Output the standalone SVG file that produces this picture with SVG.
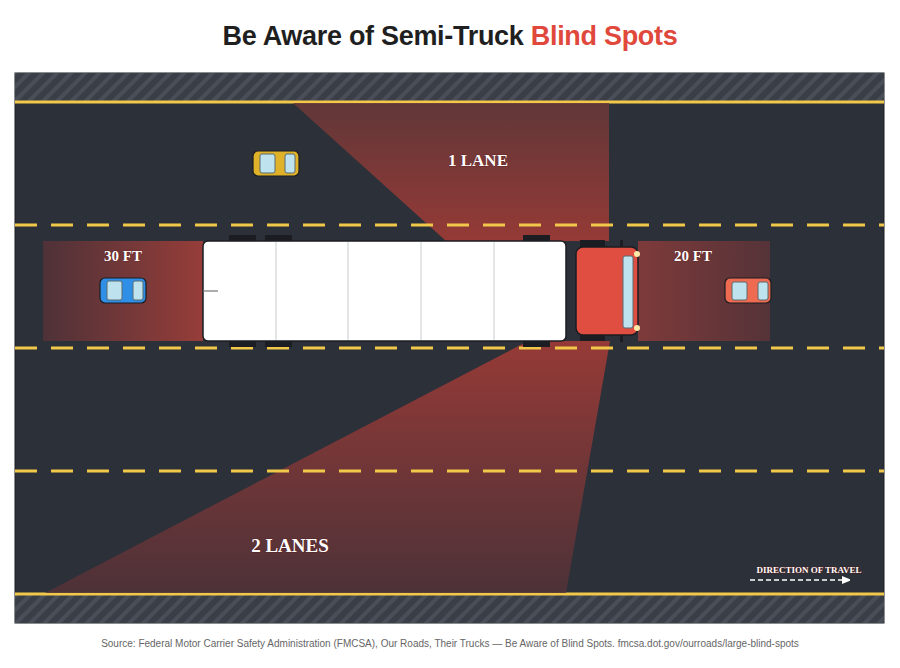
<svg xmlns="http://www.w3.org/2000/svg" width="900" height="668" viewBox="0 0 900 668">
<defs>
<pattern id="hatch" width="10" height="10" patternUnits="userSpaceOnUse" patternTransform="rotate(45)">
<rect width="10" height="10" fill="#3a3e47"/><rect width="4" height="10" fill="#4a4e58"/>
</pattern>
<linearGradient id="gTop" x1="0" y1="0" x2="0" y2="1"><stop offset="0" stop-color="#6a3838"/><stop offset="1" stop-color="#a83c36"/></linearGradient>
<linearGradient id="gRear" x1="0" y1="0" x2="1" y2="0"><stop offset="0" stop-color="#4e3238"/><stop offset="1" stop-color="#963d39"/></linearGradient>
<linearGradient id="gFront" x1="0" y1="0" x2="1" y2="0"><stop offset="0" stop-color="#7e3a3a"/><stop offset="1" stop-color="#553338"/></linearGradient>
<linearGradient id="gBot" x1="0" y1="0" x2="0" y2="1"><stop offset="0" stop-color="#a83c36"/><stop offset="1" stop-color="#523238"/></linearGradient>
<marker id="arr" markerWidth="8" markerHeight="8" refX="1" refY="4" orient="auto" markerUnits="userSpaceOnUse"><path d="M0,0 L10,4 L0,8Z" fill="#fff"/></marker>
</defs>
<style>
.lbl{font-family:"Liberation Serif",serif;font-weight:bold;fill:#fff;stroke:#5a1010;stroke-width:0.6;paint-order:stroke}
.dash{stroke:#f2c84b;stroke-width:3;stroke-dasharray:22 14}
.wheel{fill:#1b1d22}
.win{fill:#bfe3ee;stroke:#5a6a70;stroke-width:1}
.seg{stroke:#c9ccd0;stroke-width:1}
</style>
<rect width="900" height="668" fill="#fff"/>
<text x="450" y="45" text-anchor="middle" font-family="Liberation Sans, Arial, sans-serif" font-weight="bold" font-size="27" fill="#1f1f1f" letter-spacing="-0.3">Be Aware of Semi-Truck  <tspan fill="#e0483c">Blind Spots</tspan></text>
<g id="road">
<rect x="15" y="73" width="869" height="550" fill="#2c3038" stroke="#1a1c20"/>
<rect x="15" y="73" width="869" height="29" fill="url(#hatch)"/>
<rect x="15" y="594" width="869" height="29" fill="url(#hatch)"/>
<line x1="15" y1="102" x2="884" y2="102" stroke="#f2c84b" stroke-width="3"/>
<line x1="15" y1="594" x2="884" y2="594" stroke="#f2c84b" stroke-width="3"/>
</g>
<g id="blindspots">
<polygon points="293,103 609,103 609,241 446,241" fill="url(#gTop)" opacity="0.85"/>
<rect x="43" y="241" width="160" height="100" fill="url(#gRear)"/>
<rect x="638" y="241" width="132" height="100" fill="url(#gFront)"/>
<polygon points="528,341 610,341 566,593 45,593" fill="url(#gBot)" opacity="0.85"/>
</g>
<g id="lanes">
<line class="dash" x1="15" y1="225" x2="884" y2="225"/>
<line class="dash" x1="15" y1="348" x2="884" y2="348"/>
<line class="dash" x1="15" y1="471" x2="884" y2="471"/>
</g>
<g id="truck">
<rect x="229" y="235" width="27" height="8" class="wheel"/><rect x="265" y="235" width="27" height="8" class="wheel"/><rect x="523" y="235" width="27" height="8" class="wheel"/>
<rect x="229" y="339" width="27" height="8" class="wheel"/><rect x="265" y="339" width="27" height="8" class="wheel"/><rect x="523" y="339" width="27" height="8" class="wheel"/>
<rect x="203" y="241" width="363" height="100" rx="5" fill="#fff" stroke="#1b1d22" stroke-width="1.5"/>
<line class="seg" x1="276" y1="242" x2="276" y2="340"/><line class="seg" x1="348" y1="242" x2="348" y2="340"/><line class="seg" x1="421" y1="242" x2="421" y2="340"/><line class="seg" x1="494" y1="242" x2="494" y2="340"/>
<line x1="203" y1="291" x2="218" y2="291" stroke="#777" stroke-width="1.2"/>
<rect x="580" y="240" width="25" height="8" class="wheel"/><rect x="580" y="333" width="25" height="8" class="wheel"/>
<rect x="620" y="240" width="3" height="10" class="wheel"/><rect x="620" y="332" width="3" height="10" class="wheel"/>
<rect x="576" y="247" width="62" height="88" rx="7" fill="#e04e42" stroke="#1b1d22" stroke-width="1.5"/>
<rect x="623" y="256" width="10" height="72" rx="2" class="win"/>
<circle cx="637" cy="254" r="3" fill="#fde9a8"/><circle cx="637" cy="328" r="3" fill="#fde9a8"/>
</g>
<g id="car-yellow">
<rect x="253" y="151" width="46" height="25" rx="5" fill="#e0b22a" stroke="#1b1d22" stroke-width="1.2"/>
<rect x="260" y="154" width="15" height="19" rx="2" class="win"/><rect x="285" y="154" width="10" height="19" rx="2" class="win"/>
</g>
<g id="car-blue">
<rect x="100" y="278" width="46" height="25" rx="5" fill="#2f8fe6" stroke="#1b1d22" stroke-width="1.2"/>
<rect x="107" y="281" width="15" height="19" rx="2" class="win"/><rect x="133" y="281" width="10" height="19" rx="2" class="win"/>
</g>
<g id="car-orange">
<rect x="725" y="278" width="46" height="25" rx="5" fill="#ee6a50" stroke="#1b1d22" stroke-width="1.2"/>
<rect x="732" y="282" width="15" height="18" rx="2" class="win"/><rect x="758" y="282" width="10" height="18" rx="2" class="win"/>
</g>
<g id="labels">
<text class="lbl" x="478" y="166" text-anchor="middle" font-size="17">1 LANE</text>
<text class="lbl" x="123" y="261" text-anchor="middle" font-size="15">30 FT</text>
<text class="lbl" x="693" y="261" text-anchor="middle" font-size="15">20 FT</text>
<text class="lbl" x="290" y="552" text-anchor="middle" font-size="19">2 LANES</text>
<text class="lbl" x="809" y="573" text-anchor="middle" font-size="9">DIRECTION OF TRAVEL</text>
</g>
<g id="connectors">
<line x1="750" y1="580" x2="843" y2="580" stroke="#fff" stroke-width="1.5" stroke-dasharray="5 3" marker-end="url(#arr)"/>
</g>
<text x="450" y="647" text-anchor="middle" font-family="Liberation Sans, Arial, sans-serif" font-size="10" fill="#666">Source: Federal Motor Carrier Safety Administration (FMCSA), Our Roads, Their Trucks — Be Aware of Blind Spots. fmcsa.dot.gov/ourroads/large-blind-spots</text>
</svg>
